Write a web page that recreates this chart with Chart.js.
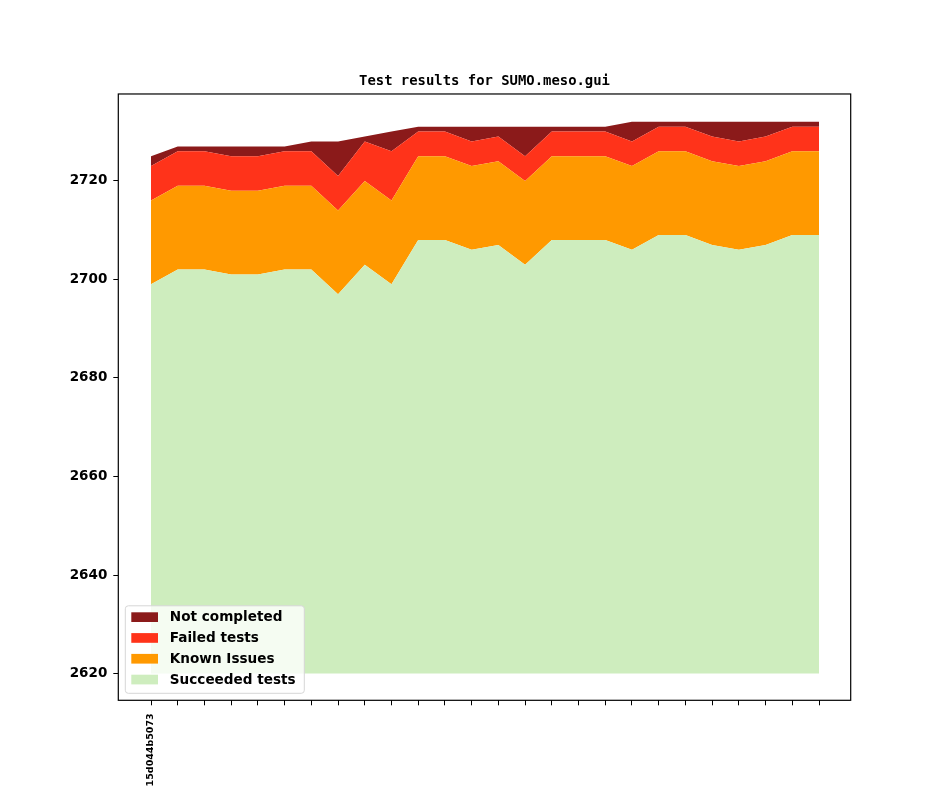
<!DOCTYPE html>
<html>
<head>
<meta charset="utf-8">
<script src="https://cdn.jsdelivr.net/npm/chart.js@4.4.1/dist/chart.umd.min.js"></script>
<style>
  html, body { margin: 0; padding: 0; background: #fff; }
</style>
</head>
<body>
<canvas id="chart" width="944" height="787"></canvas>
<script>
// commit ids on the x axis, only the first one is labelled
const commits = ['15d044b5073', '', '', '', '', '', '', '', '', '', '', '', '', '',
  '', '', '', '', '', '', '', '', '', '', '', '']

const succeeded = [2699, 2702, 2702, 2701, 2701, 2702, 2702, 2697, 2703, 2699, 2708, 2708, 2706,
  2707, 2703, 2708, 2708, 2708, 2706, 2709, 2709, 2707, 2706, 2707, 2709, 2709]
const knownIssues = [17, 17, 17, 17, 17, 17, 17, 17, 17, 17, 17, 17, 17,
  17, 17, 17, 17, 17, 17, 17, 17, 17, 17, 17, 17, 17]
const failed = [7, 7, 7, 7, 7, 7, 7, 7, 8, 10, 5, 5, 5,
  5, 5, 5, 5, 5, 5, 5, 5, 5, 5, 5, 5, 5]
const notCompleted = [2, 1, 1, 2, 2, 1, 2, 7, 1, 4, 1, 1, 3,
  2, 6, 1, 1, 1, 4, 1, 1, 3, 4, 3, 1, 1]

const yTicks = [2620, 2640, 2660, 2680, 2700, 2720]

const points = values => values.map((v, i) => ({ x: i, y: v }))

// axes frame + legend in the lower left corner
const frameAndLegend = {
  id: "frameAndLegend",
  afterDraw(chart) {
    const { ctx, chartArea: a } = chart
    ctx.save()

    const bx = a.left + 7, bw = 179, bh = 87.5
    const by = a.bottom - 7 - bh
    ctx.beginPath()
    ctx.roundRect(bx, by, bw, bh, 3)
    ctx.fillStyle = "rgba(255, 255, 255, 0.8)"
    ctx.fill()
    ctx.strokeStyle = "#d6d6d6"
    ctx.lineWidth = 1
    ctx.stroke()

    const sets = chart.data.datasets.slice().reverse()
    ctx.font = "bold 13.6px 'DejaVu Sans'"
    ctx.textBaseline = "middle"
    ctx.textAlign = "left"
    sets.forEach((ds, i) => {
      const cy = by + 11.5 + i * 20.8
      ctx.fillStyle = ds.backgroundColor
      ctx.fillRect(bx + 6, cy - 5, 26.7, 9.7)
      ctx.fillStyle = "#000"
      ctx.fillText(ds.label, bx + 44.5, cy + 0.5)
    })

    ctx.strokeStyle = "#000"
    ctx.lineWidth = 1.2
    ctx.strokeRect(a.left, a.top, a.right - a.left, a.bottom - a.top)
    ctx.restore()
  }
}

new Chart(document.getElementById("chart"), {
  type: "line",
  data: {
    datasets: [
      { label: "Succeeded tests", data: points(succeeded), backgroundColor: "#ceedbe", fill: { value: 2620 } },
      { label: "Known Issues", data: points(knownIssues), backgroundColor: "#ff9900", fill: "-1" },
      { label: "Failed tests", data: points(failed), backgroundColor: "#ff331a", fill: "-1" },
      { label: "Not completed", data: points(notCompleted), backgroundColor: "#8b1a1a", fill: "-1" }
    ]
  },
  options: {
    responsive: false,
    animation: false,
    devicePixelRatio: 1,
    elements: {
      point: { radius: 0 },
      line: { borderWidth: 0, tension: 0 }
    },
    layout: { padding: { left: 0, right: 93.3, top: 73.5, bottom: 0 } },
    scales: {
      x: {
        type: "linear",
        min: -1.224,
        max: 26.186,
        afterBuildTicks: scale => { scale.ticks = commits.map((c, i) => ({ value: i })) },
        afterFit: scale => { scale.height = 86.7 },
        border: { display: false },
        grid: { drawOnChartArea: false, drawTicks: true, tickLength: 5, color: "#000" },
        ticks: {
          autoSkip: false,
          minRotation: 90,
          maxRotation: 90,
          padding: 8,
          color: "#000",
          font: { family: "'DejaVu Sans'", size: 9.5, weight: "bold" },
          callback: (value, index) => commits[index]
        }
      },
      y: {
        stacked: true,
        min: 2614.57,
        max: 2737.64,
        afterBuildTicks: scale => { scale.ticks = yTicks.map(v => ({ value: v })) },
        afterFit: scale => { scale.width = 118.3 },
        border: { display: false },
        grid: { drawOnChartArea: false, drawTicks: true, tickLength: 5, color: "#000" },
        ticks: {
          padding: 6,
          color: "#000",
          font: { family: "'DejaVu Sans'", size: 13.5, weight: "bold" },
          callback: value => String(value)
        }
      }
    },
    plugins: {
      legend: { display: false },
      tooltip: { enabled: false },
      title: {
        display: true,
        text: "Test results for SUMO.meso.gui",
        fullSize: false,
        color: "#000",
        font: { family: "'DejaVu Sans Mono'", size: 13.9, weight: "bold", lineHeight: 1.2 },
        padding: { top: 0, bottom: 3.8 }
      }
    }
  },
  plugins: [frameAndLegend]
})
</script>
</body>
</html>
